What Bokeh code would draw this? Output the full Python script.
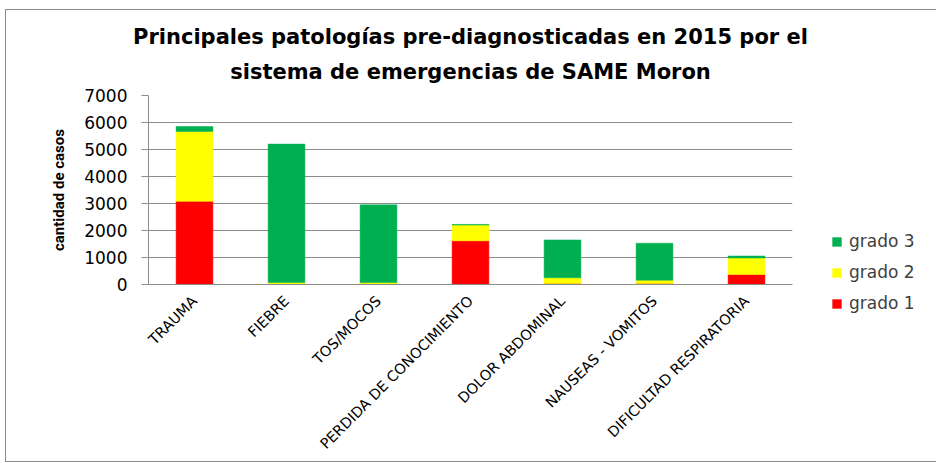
from bokeh.plotting import figure
from bokeh.models import ColumnDataSource, FactorRange, Range1d, Legend, LegendItem, Title
from bokeh.embed import file_html
from bokeh.resources import INLINE
import math

categories = ["TRAUMA", "FIEBRE", "TOS/MOCOS", "PERDIDA DE CONOCIMIENTO",
              "DOLOR ABDOMINAL", "NAUSEAS - VOMITOS", "DIFICULTAD RESPIRATORIA"]
grado1 = [3080, 10, 10, 1620, 40, 40, 370]
grado2 = [2590, 60, 60, 580, 210, 120, 610]
grado3 = [180, 5130, 2880, 25, 1400, 1370, 75]
series_names = ["grado 1", "grado 2", "grado 3"]
colors = ["#FF0000", "#FFFF00", "#00B050"]
y_ticks = [0, 1000, 2000, 3000, 4000, 5000, 6000, 7000]
title_lines = ["Principales patologías pre-diagnosticadas en 2015 por el",
               "sistema de emergencias de SAME Moron"]

source = ColumnDataSource(dict(cat=categories, g1=grado1, g2=grado2, g3=grado3))

FONT = "DejaVu Sans"

p = figure(x_range=FactorRange(factors=categories), y_range=Range1d(0, 7000),
           frame_width=644, frame_height=189, output_backend="svg", toolbar_location=None,
           min_border_left=142, min_border_right=138, min_border_top=85, min_border_bottom=177)

p.styles = {"border": "1px solid #8c8c8c", "margin-left": "5px", "margin-top": "9px"}

renderers = p.vbar_stack(["g1", "g2", "g3"], x="cat", width=0.4, color=colors,
                         line_color=colors, line_width=0.5, source=source)

p.title = None
t2 = Title(text=title_lines[1], align="center",
           text_font=FONT, text_font_size="21px", text_font_style="bold", text_color="#000000",
           standoff=24)
t1 = Title(text=title_lines[0], align="center",
           text_font=FONT, text_font_size="21px", text_font_style="bold", text_color="#000000",
           standoff=-6)
p.add_layout(t2, "above")
p.add_layout(t1, "above")

items = [LegendItem(label=series_names[i], renderers=[renderers[i]]) for i in (2, 1, 0)]
legend = Legend(items=items, location=(39, -29), label_text_font=FONT,
                label_text_font_size="17px", label_text_color="#404040",
                glyph_width=11, glyph_height=11, spacing=11, border_line_color=None,
                background_fill_alpha=0, label_standoff=7)
p.add_layout(legend, "right")

p.xgrid.grid_line_color = None
p.ygrid.grid_line_color = "#8c8c8c"
p.ygrid.ticker = y_ticks
p.yaxis.ticker = y_ticks
p.outline_line_color = None

for ax in (p.xaxis, p.yaxis):
    ax.axis_line_color = "#8c8c8c"
    ax.major_tick_line_color = "#8c8c8c"
    ax.minor_tick_line_color = None
    ax.major_label_text_font = FONT
    ax.major_label_text_color = "#000000"

p.yaxis.major_tick_out = 7
p.yaxis.major_tick_in = 0
p.yaxis.major_label_text_font_size = "17px"
p.yaxis.major_label_standoff = 14
p.yaxis.axis_label = "cantidad de casos"
p.yaxis.axis_label_text_font = "Roboto"
p.yaxis.axis_label_text_font_size = "15px"
p.yaxis.axis_label_text_font_style = "bold"
p.yaxis.axis_label_text_color = "#000000"
p.yaxis.axis_label_standoff = 13

p.xaxis.major_tick_line_color = None
p.xaxis.major_label_orientation = math.pi / 4
p.xaxis.major_label_text_font_size = "14.5px"
p.xaxis.major_label_standoff = 8

open("out.html", "w").write(file_html(p, INLINE))
